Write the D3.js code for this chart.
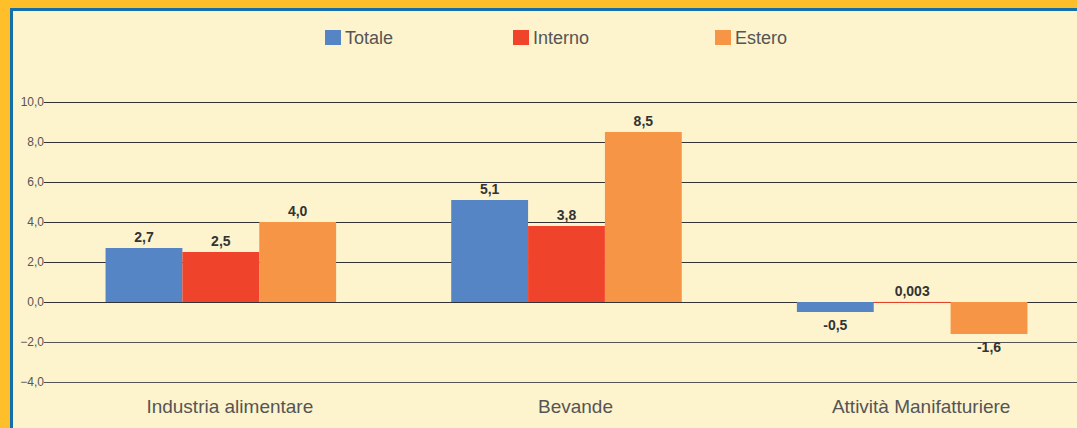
<!DOCTYPE html>
<html>
<head>
<meta charset="utf-8">
<script src="https://cdn.jsdelivr.net/npm/d3@7"></script>
<style>
  body { margin: 0; background: #FDF3CD; }
  svg { display: block; font-family: "Liberation Sans", Arial, sans-serif; }
</style>
</head>
<body>
<div id="chart"></div>
<script>
// chart data
let categories = ["Industria alimentare", "Bevande", "Attività Manifatturiere"];
let seriesNames = ["Totale", "Interno", "Estero"];
let totale = [2.7, 5.1, -0.5];
let interno = [2.5, 3.8, 0.003];
let estero = [4.0, 8.5, -1.6];
let valueLabels = [["2,7", "5,1", "-0,5"], ["2,5", "3,8", "0,003"], ["4,0", "8,5", "-1,6"]];
let yTicks = [-4, -2, 0, 2, 4, 6, 8, 10];
let colors = ["#5585C5", "#F0432C", "#F79546"];

let svgWidth = 1077;
let svgHeight = 428;

let svg = d3.select("#chart").append("svg")
  .attr("width", svgWidth)
  .attr("height", svgHeight);

// background and frame
svg.append("rect").attr("width", svgWidth).attr("height", svgHeight).attr("fill", "#FFBF2A");
svg.append("rect").attr("x", 10).attr("y", 8).attr("width", svgWidth).attr("height", svgHeight).attr("fill", "#1470A8");
svg.append("rect").attr("x", 13).attr("y", 11).attr("width", svgWidth).attr("height", svgHeight).attr("fill", "#FDF3CD");

// scales
let xScale = d3.scaleBand().domain(categories).range([48, 1085]).paddingInner(0.333).paddingOuter(0.1665);
let xSub = d3.scaleBand().domain(seriesNames).range([0, xScale.bandwidth()]);
let yScale = d3.scaleLinear().domain([-4, 10]).range([382, 102]);

// gridlines + y axis
let yAxis = d3.axisLeft(yScale)
  .tickValues(yTicks)
  .tickSize(-(svgWidth - 48))
  .tickPadding(2)
  .tickFormat(d => d3.format(".1f")(d).replace(".", ","));

let yG = svg.append("g").attr("transform", "translate(48,0)").call(yAxis);
yG.select(".domain").remove();
yG.selectAll(".tick line").attr("stroke", d => d < 0 ? "#555" : "#333").attr("x1", -4);
yG.selectAll(".tick text").attr("fill", "#555").attr("font-size", 12).attr("x", -4);

// bars
let seriesValues = [totale, interno, estero];
seriesValues.forEach(function(vals, s) {
  let g = svg.append("g");
  g.selectAll("rect").data(vals).enter().append("rect")
    .attr("x", (d, i) => xScale(categories[i]) + xSub(seriesNames[s]))
    .attr("y", d => yScale(Math.max(0, d)))
    .attr("width", xSub.bandwidth())
    .attr("height", d => Math.max(1, Math.abs(yScale(d) - yScale(0))))
    .attr("fill", colors[s]);
  g.selectAll("text").data(vals).enter().append("text")
    .attr("x", (d, i) => xScale(categories[i]) + xSub(seriesNames[s]) + xSub.bandwidth() / 2)
    .attr("y", d => d >= 0 ? yScale(d) - 6 : yScale(d) + 18)
    .attr("text-anchor", "middle")
    .attr("font-size", 14)
    .attr("font-weight", "bold")
    .attr("fill", "#333")
    .text((d, i) => valueLabels[s][i]);
});

// category labels (sit slightly right of the bar group centre)
svg.append("g").selectAll("text").data(categories).enter().append("text")
  .attr("x", d => xScale(d) + xScale.bandwidth() / 2 + 9)
  .attr("y", 413)
  .attr("text-anchor", "middle")
  .attr("font-size", 19)
  .attr("fill", "#555")
  .text(d => d);

// legend
let legendX = [325, 513, 715];
let legend = svg.append("g");
seriesNames.forEach(function(name, i) {
  legend.append("rect").attr("x", legendX[i]).attr("y", 30).attr("width", 16).attr("height", 15).attr("fill", colors[i]);
  legend.append("text").attr("x", legendX[i] + 20).attr("y", 44)
    .attr("font-size", 18).attr("fill", "#555").text(name);
});
</script>
</body>
</html>
